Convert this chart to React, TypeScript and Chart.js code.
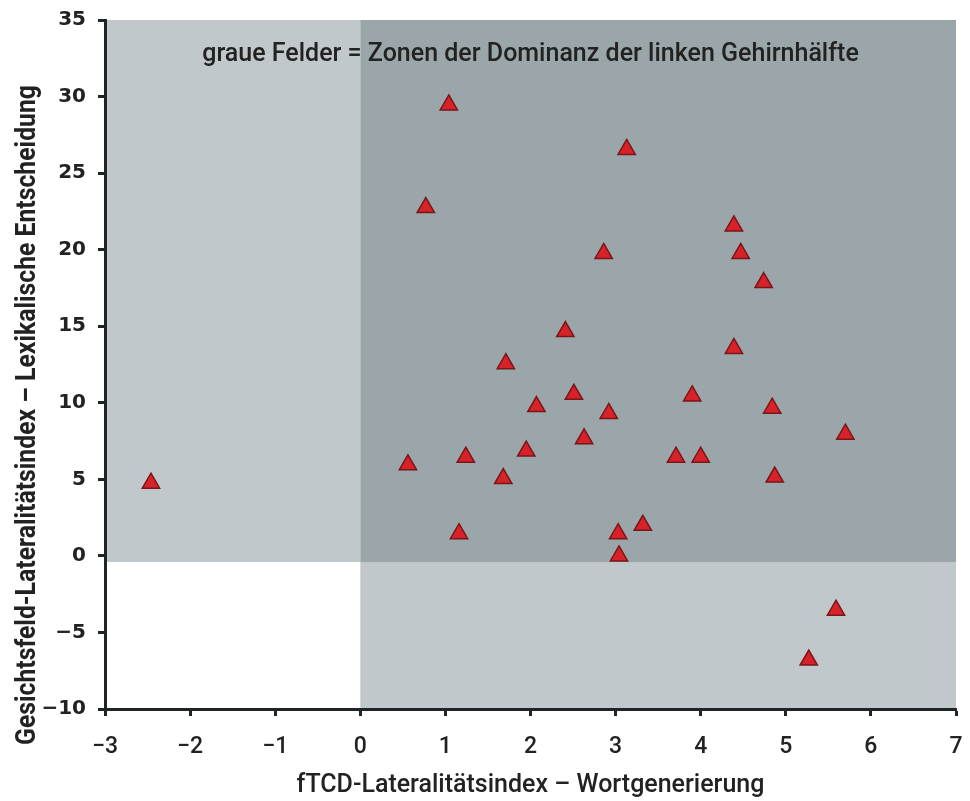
import React, { useEffect, useRef } from "react";
import { Chart, registerables } from "chart.js";

Chart.register(...registerables);

const xValues = [
  -2.46, 1.04, 3.13, 0.77, 4.39, 4.47, 2.86, 4.74, 2.41, 4.39, 1.71, 2.51, 3.9, 2.07, 2.92, 4.84,
  5.7, 2.63, 1.95, 1.24, 3.71, 4.0, 0.56, 4.87, 1.68, 1.16, 3.03, 3.32, 3.04, 5.59, 5.27,
];
const yValues = [
  4.75, 29.45, 26.55, 22.75, 21.55, 19.75, 19.75, 17.85, 14.65, 13.55, 12.55, 10.55, 10.45, 9.75,
  9.3, 9.65, 7.95, 7.65, 6.85, 6.45, 6.45, 6.45, 5.95, 5.15, 5.05, 1.45, 1.45, 2.0, 0.0, -3.55, -6.8,
];

const xTickValues = [-3, -2, -1, 0, 1, 2, 3, 4, 5, 6, 7];
const yTickValues = [-10, -5, 0, 5, 10, 15, 20, 25, 30, 35];

const splitX = 0;
const splitY = -0.4;

const noteText = "graue Felder = Zonen der Dominanz der linken Gehirnhälfte";
const notePos = { x: 2.0, y: 32.7 };
const xTitle = "fTCD-Lateralitätsindex – Wortgenerierung";
const yTitle = "Gesichtsfeld-Lateralitätsindex – Lexikalische Entscheidung";

const LIGHT_GRAY = "#c1c8cb";
const DARK_GRAY = "#9ba6aa";
const AXIS_COLOR = "#1f2427";
const TEXT_COLOR = "#222222";

const fmt = (v: number) => (v < 0 ? "\u2212" + Math.abs(v) : String(v));

const quadrantPlugin = {
  id: "quadrants",
  beforeDraw(chart: any) {
    const { ctx, chartArea, scales } = chart;
    const xs = scales.x;
    const ys = scales.y;
    const px = xs.getPixelForValue(splitX);
    const py = ys.getPixelForValue(splitY);
    const { left, right, top, bottom } = chartArea;
    ctx.save();
    ctx.fillStyle = LIGHT_GRAY;
    ctx.fillRect(left, top, px - left, py - top);
    ctx.fillRect(px, py, right - px, bottom - py);
    ctx.fillStyle = DARK_GRAY;
    ctx.fillRect(px, top, right - px, py - top);
    ctx.fillStyle = TEXT_COLOR;
    ctx.font = "500 25px Roboto, sans-serif";
    ctx.textAlign = "center";
    ctx.textBaseline = "middle";
    ctx.fillText(noteText, xs.getPixelForValue(notePos.x), ys.getPixelForValue(notePos.y));
    ctx.restore();
  },
  afterDraw(chart: any) {
    const { ctx } = chart;
    ctx.save();
    ctx.fillStyle = TEXT_COLOR;
    ctx.font = "bold 27px Roboto, sans-serif";
    ctx.textAlign = "center";
    ctx.textBaseline = "middle";
    const targetWidth = 660;
    const w = ctx.measureText(yTitle).width;
    ctx.translate(28, 415);
    ctx.rotate(-Math.PI / 2);
    ctx.scale(targetWidth / w, 1);
    ctx.fillText(yTitle, 0, 0);
    ctx.restore();
  },
};

export default function App() {
  const ref = useRef<HTMLCanvasElement | null>(null);

  useEffect(() => {
    if (!ref.current) return;
    const chart = new Chart(ref.current, {
      type: "scatter",
      data: {
        datasets: [
          {
            data: xValues.map((x, i) => ({ x, y: yValues[i] })),
            pointStyle: "triangle",
            pointRadius: 10,
            pointBackgroundColor: "#d8222a",
            pointBorderColor: "#7a1518",
            pointBorderWidth: 1.5,
          },
        ],
      },
      options: {
        responsive: false,
        animation: false,
        layout: { padding: { top: 20, right: 14, left: 0, bottom: 0 } },
        plugins: {
          legend: { display: false },
          tooltip: { enabled: false },
        },
        scales: {
          x: {
            type: "linear",
            min: -3,
            max: 7,
            afterBuildTicks: (s: any) => {
              s.ticks = xTickValues.map((v) => ({ value: v }));
            },
            afterFit: (s: any) => {
              s.height = 92;
              s.paddingLeft = 0;
              s.paddingRight = 0;
            },
            border: { display: true, color: AXIS_COLOR, width: 3 },
            grid: {
              drawOnChartArea: false,
              drawTicks: true,
              tickLength: 7,
              tickWidth: 3,
              tickColor: AXIS_COLOR,
            },
            ticks: {
              color: TEXT_COLOR,
              padding: 17,
              font: { family: "Roboto, sans-serif", size: 23, weight: "500" },
              callback: (v: any) => fmt(Number(v)),
            },
            title: {
              display: true,
              text: xTitle,
              color: TEXT_COLOR,
              font: { family: "Roboto, sans-serif", size: 25, weight: "500" },
              padding: { top: 0, bottom: 0 },
            },
          },
          y: {
            type: "linear",
            min: -10,
            max: 35,
            afterBuildTicks: (s: any) => {
              s.ticks = yTickValues.map((v) => ({ value: v }));
            },
            afterFit: (s: any) => {
              s.width = 105;
              s.paddingTop = 0;
              s.paddingBottom = 0;
            },
            border: { display: true, color: AXIS_COLOR, width: 3 },
            grid: {
              drawOnChartArea: false,
              drawTicks: true,
              tickLength: 7,
              tickWidth: 3,
              tickColor: AXIS_COLOR,
            },
            ticks: {
              color: TEXT_COLOR,
              padding: 12,
              font: { family: "'DejaVu Sans', sans-serif", size: 20, weight: "bold" },
              callback: (v: any) => fmt(Number(v)),
            },
          },
        },
      },
      plugins: [quadrantPlugin],
    });
    return () => chart.destroy();
  }, []);

  return (
    <div style={{ position: "absolute", left: 0, top: 0, width: 970, height: 801, background: "#fff" }}>
      <canvas ref={ref} width={970} height={801} />
    </div>
  );
}
